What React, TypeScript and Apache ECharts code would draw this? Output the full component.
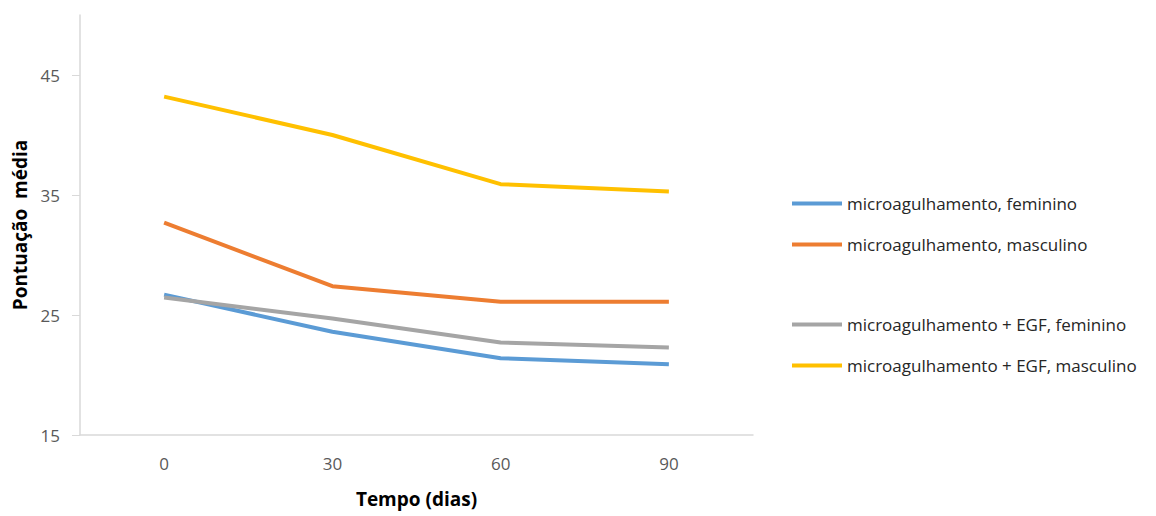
import React, { useEffect, useRef } from "react";
import * as echarts from "echarts";

const days = ["0", "30", "60", "90"];
const seriesNames = [
  "microagulhamento, feminino",
  "microagulhamento, masculino",
  "microagulhamento + EGF, feminino",
  "microagulhamento + EGF, masculino",
];
const microFem = [26.7, 23.6, 21.4, 20.9];
const microMasc = [32.7, 27.4, 26.1, 26.1];
const egfFem = [26.45, 24.7, 22.7, 22.3];
const egfMasc = [43.2, 40.0, 35.9, 35.3];
const yTicks = [15, 25, 35, 45];
const colors = ["#5B9BD5", "#ED7D31", "#A5A5A5", "#FFC000"];

const FONT = "'Open Sans', Lato, sans-serif";

export default function App() {
  const ref = useRef<HTMLDivElement>(null);

  useEffect(() => {
    if (!ref.current) return;
    const chart = echarts.init(ref.current, undefined, { renderer: "svg" });
    const values = [microFem, microMasc, egfFem, egfMasc];
    const legendText = { fontFamily: FONT, fontSize: 17, color: "#262626" };
    const legendBase = {
      orient: "vertical",
      left: 787,
      itemWidth: 50,
      itemHeight: 4,
      itemGap: 24,
      icon: "rect",
      textStyle: legendText,
    };
    chart.setOption({
      animation: false,
      backgroundColor: "#ffffff",
      textStyle: { fontFamily: FONT },
      grid: { left: 80, right: 403, top: 15, bottom: 81, outerBoundsMode: "none", containLabel: false },
      legend: [
        { ...legendBase, data: seriesNames.slice(0, 2), top: 190 },
        { ...legendBase, data: seriesNames.slice(2), top: 311 },
      ],
      xAxis: {
        type: "category",
        data: days,
        boundaryGap: true,
        name: "Tempo (dias)",
        nameLocation: "middle",
        nameGap: 54,
        nameTextStyle: { fontFamily: FONT, fontSize: 19, fontWeight: "bold", color: "#000" },
        axisLine: { lineStyle: { color: "#D9D9D9", width: 1.5 } },
        axisTick: { show: false },
        axisLabel: { margin: 20, fontSize: 17, color: "#595959", fontFamily: FONT },
      },
      yAxis: {
        type: "value",
        min: 15,
        max: 50,
        name: "Pontuação  média",
        nameLocation: "middle",
        nameGap: 50,
        nameTextStyle: { fontFamily: FONT, fontSize: 19, fontWeight: "bold", color: "#000" },
        axisLine: { show: true, lineStyle: { color: "#D9D9D9", width: 1.5 } },
        axisTick: { show: true, length: 8, customValues: yTicks, lineStyle: { color: "#D9D9D9" } },
        axisLabel: { margin: 20, fontSize: 17, color: "#595959", fontFamily: FONT, customValues: yTicks },
        splitLine: { show: false },
      },
      series: seriesNames.map((name, i) => ({
        name,
        type: "line",
        data: values[i],
        symbol: "none",
        color: colors[i],
        lineStyle: { width: 4, color: colors[i] },
      })),
    });
    return () => chart.dispose();
  }, []);

  return (
    <div
      ref={ref}
      style={{ position: "absolute", left: 0, top: 0, width: 1156, height: 516 }}
    />
  );
}
